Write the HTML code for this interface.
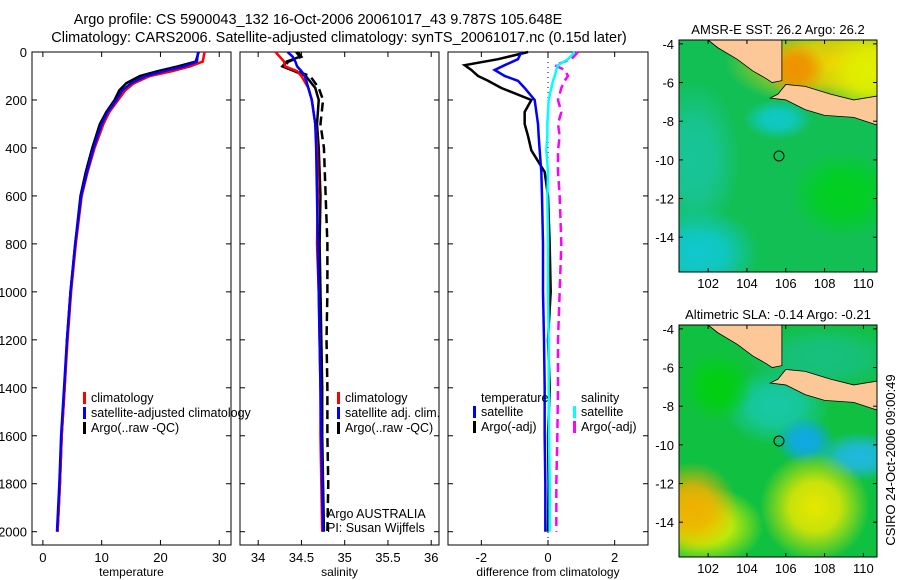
<!DOCTYPE html>
<html><head><meta charset="utf-8"><style>
body{margin:0;background:#fff;width:900px;height:580px;overflow:hidden}
svg{display:block;font-family:"Liberation Sans",sans-serif}
text{font-size:12px;fill:#000}
</style></head><body>
<svg id="fig" width="900" height="580" viewBox="0 0 900 580">
<rect width="900" height="580" fill="#fff"/>
<text x="318" y="24" text-anchor="middle" style="font-size:14.5px">Argo profile: CS 5900043_132 16-Oct-2006 20061017_43 9.787S 105.648E</text>
<text x="339" y="42" text-anchor="middle" style="font-size:14.5px">Climatology: CARS2006. Satellite-adjusted climatology: synTS_20061017.nc (0.15d later)</text>
<g id="g"></g>
</svg>
<script>
// ---- data ----
const depthsT=[0,40,60,80,100,130,160,200,250,300,400,500,600,800,1000,1200,1400,1600,1800,2000];
const tempClim=[27.5,27.2,25,22,18.2,15.5,14,12.8,11.3,10.3,8.8,7.6,6.6,5.6,4.8,4.2,3.7,3.2,2.9,2.5];
const tempSat=[26.4,26.2,24,20.5,17.5,15,13.5,12.5,11,10,8.6,7.5,6.5,5.5,4.7,4.1,3.6,3.1,2.8,2.4];
const tempArgo=[26.5,26,23,19.5,16.5,14.2,13,12.2,10.8,9.7,8.4,7.3,6.4,5.5,4.7,4.1,3.7,3.2,2.9,2.5];
const depthsS=[0,20,40,60,80,100,150,200,300,400,600,800,1000,1200,1400,1600,1800,2000];
const salClim=[34.2,34.25,34.3,34.31,34.45,34.5,34.58,34.62,34.66,34.68,34.69,34.68,34.7,34.71,34.72,34.72,34.73,34.74];
const salSat=[34.34,34.4,34.43,34.45,34.5,34.54,34.58,34.62,34.66,34.67,34.68,34.69,34.7,34.71,34.72,34.73,34.74,34.75];
const salArgo=[34.46,34.5,34.35,34.3,34.45,34.6,34.7,34.75,34.72,34.76,34.78,34.8,34.8,34.79,34.8,34.8,34.81,34.8];
const salArgoRaw=[34.44,34.48,34.33,34.28,34.42,34.55,34.66,34.7,34.68,34.7,34.72,34.71,34.72,34.73,34.74,34.74,34.75,34.76];
const depthsD=[0,30,55,75,100,120,150,200,250,300,350,410,500,600,800,1000,1200,1400,1600,1800,2000];
const dTSat=[-0.8,-0.9,-1.3,-1.6,-1.3,-0.9,-0.7,-0.4,-0.35,-0.3,-0.28,-0.25,-0.2,-0.18,-0.15,-0.15,-0.12,-0.1,-0.1,-0.08,-0.08];
const dTArgo=[-0.6,-1.5,-2.5,-2.3,-2.1,-1.8,-1.4,-0.5,-0.7,-0.7,-0.6,-0.5,-0.1,0,0.05,0.08,0,0.05,0,0.02,0];
const dSSat=[0.8,0.6,0.3,0.25,0.2,0.15,0.1,0.02,0,-0.02,-0.02,-0.05,0,-0.02,0,0,0.02,0.02,0.03,0.05,0.05];
const dSArgo=[0.9,0.7,0.2,0.5,0.6,0.5,0.4,0.3,0.4,0.3,0.35,0.3,0.3,0.35,0.4,0.35,0.3,0.3,0.28,0.25,0.25];
const tempTicks=[0,10,20,30], salTicks=[34,34.5,35,35.5,36], diffTicks=[-2,0,2];
const depthTicks=[0,200,400,600,800,1000,1200,1400,1600,1800,2000];
const lonTicks=[102,104,106,108,110], latTicks=[-4,-6,-8,-10,-12,-14];

const NS='http://www.w3.org/2000/svg';
const G=document.getElementById('g');
function mk(tag,attrs,parent){const e=document.createElementNS(NS,tag);for(const k in attrs)e.setAttribute(k,attrs[k]);(parent||G).appendChild(e);return e;}
const Y0=52,YK=479.7/2000;
const yD=d=>Y0+d*YK;
function panel(name,x0,x1,vmin,vmax,ticks,label){
  const sx=v=>x0+(v-vmin)/(vmax-vmin)*(x1-x0);
  const fr=mk('rect',{x:x0,y:52,width:x1-x0,height:493,fill:'none',stroke:'#000','stroke-width':1});
  
  
  ticks.forEach(t=>{
    const X=sx(t);
    mk('line',{x1:X,x2:X,y1:52,y2:57,stroke:'#000'});mk('line',{x1:X,x2:X,y1:545,y2:540,stroke:'#000'});
    const tx=mk('text',{x:X,y:562,'text-anchor':'middle',style:'font-size:13px'});tx.textContent=t;
    
    
  });
  depthTicks.forEach(d=>{mk('line',{x1:x0,x2:x0+5,y1:yD(d),y2:yD(d),stroke:'#000'});mk('line',{x1:x1,x2:x1-5,y1:yD(d),y2:yD(d),stroke:'#000'});});
  const lb=mk('text',{x:(x0+x1)/2,y:576,'text-anchor':'middle'});lb.textContent=label;
  
  
  return sx;
}
function line(name,sx,vals,deps,color,dash){
  const p=mk('polyline',{points:vals.map((v,i)=>sx(v)+','+yD(deps[i])).join(' '),fill:'none',stroke:color,'stroke-width':2.5,'stroke-dasharray':dash||'none'});
  
  
}
function legend(name,x,y,items){
  items.forEach((it,i)=>{
    mk('rect',{x:x,y:y+i*15-10,width:3,height:12,fill:it[1]});
    const t=mk('text',{x:x+8,y:y+i*15,style:'font-size:12.5px'});t.textContent=it[0];
    
    
  });
}
depthTicks.forEach(d=>{const t=mk('text',{x:27,y:yD(d)+5,'text-anchor':'end',style:'font-size:13px'});t.textContent=d;
  
  });
// panel 1
const sT=panel('temperature-panel',32,231,-1.85,32,tempTicks,'temperature');
line('argo-temperature-line',sT,tempArgo,depthsT,'#000');
line('climatology-temperature-line',sT,tempClim,depthsT,'#f00');
line('satellite-temperature-line',sT,tempSat,depthsT,'#00f');
legend('temperature-legend',83,402,[['climatology','#f00'],['satellite-adjusted climatology','#00f'],['Argo(..raw -QC)','#000']]);
// panel 2
const sS=panel('salinity-panel',240,439,33.79,36.09,salTicks,'salinity');
line('argo-salinity-raw-line',sS,salArgoRaw,depthsS,'#000');
line('argo-salinity-line',sS,salArgo,depthsS,'#000','9,5');
line('climatology-salinity-line',sS,salClim,depthsS,'#f00');
line('satellite-salinity-line',sS,salSat,depthsS,'#00f');
legend('salinity-legend',337,402,[['climatology','#f00'],['satellite adj. clim.','#00f'],['Argo(..raw -QC)','#000']]);
let t1=mk('text',{x:327,y:518,style:'font-size:12.5px'});t1.textContent='Argo AUSTRALIA';


let t2=mk('text',{x:327,y:532,style:'font-size:12.5px'});t2.textContent='PI: Susan Wijffels';


// panel 3
const sD=panel('difference-panel',448,648,-3,3,diffTicks,'difference from climatology');
mk('line',{x1:sD(0),x2:sD(0),y1:52,y2:545,stroke:'#000','stroke-dasharray':'1,4'});
line('argo-temp-diff-line',sD,dTArgo,depthsD,'#000');
line('satellite-temp-diff-line',sD,dTSat,depthsD,'#00f');
line('argo-sal-diff-line',sD,dSArgo,depthsD,'#f0f','9,5');
line('satellite-sal-diff-line',sD,dSSat,depthsD,'#0ff');
let th=mk('text',{x:481,y:402,style:'font-size:12.5px'});th.textContent='temperature';
let sh=mk('text',{x:581,y:402,style:'font-size:12.5px'});sh.textContent='salinity';
legend('diff-temp-legend',473,416,[['satellite','#00f'],['Argo(-adj)','#000']]);
legend('diff-sal-legend',573,416,[['satellite','#0ff'],['Argo(-adj)','#f0f']]);

// ---- maps ----
const defsRoot=mk('defs',{},document.getElementById('fig'));
let gid=0;
function blob(parent,cx,cy,rx,ry,color){
  const id='rg'+(gid++);
  const rg=mk('radialGradient',{id:id},defsRoot);
  mk('stop',{offset:'0','stop-color':color,'stop-opacity':1},rg);
  mk('stop',{offset:'0.45','stop-color':color,'stop-opacity':0.85},rg);
  mk('stop',{offset:'1','stop-color':color,'stop-opacity':0},rg);
  mk('ellipse',{cx:cx,cy:cy,rx:rx,ry:ry,fill:`url(#${id})`},parent);
}
function map(name,top,title,kind){
  const L=679,R=877,B=top+232;
  const lx=lon=>L+(lon-100.5)/(110.7-100.5)*(R-L);
  const ly=lat=>top+(-3.8-lat)/(15.8-3.8)*(B-top);
  const grp=mk('g',{});
  
  
  const id=name+'c';
  const cp=mk('clipPath',{id:id},defsRoot);
  mk('rect',{x:L,y:top,width:R-L,height:B-top},cp);
  const c=mk('g',{'clip-path':`url(#${id})`},grp);
  if(kind==='sst'){
    mk('rect',{x:L,y:top,width:R-L,height:B-top,fill:'#12bf55'},c);
    blob(c,lx(101.5),ly(-14.8),60,45,'#10c8d0');
    blob(c,lx(101.3),ly(-10),45,80,'#18c59a');
    blob(c,lx(105.6),ly(-7.9),35,20,'#10c8c8');
    blob(c,lx(109),ly(-11.8),55,45,'#00d020');
    blob(c,lx(108.5),ly(-5),110,45,'#f0d000');
    blob(c,lx(110.5),ly(-5.5),50,45,'#e0f000');
    blob(c,lx(106.5),ly(-5.3),30,28,'#f09000');
  } else {
    mk('rect',{x:L,y:top,width:R-L,height:B-top,fill:'#10c040'},c);
    blob(c,lx(105.5),ly(-8),55,40,'#18c8a8');
    blob(c,lx(108),ly(-5.5),80,35,'#18c080');
    blob(c,lx(107),ly(-9.8),30,25,'#10a8e8');
    blob(c,lx(109.8),ly(-10.6),45,25,'#20b8e0');
    blob(c,lx(101.8),ly(-14.2),60,40,'#d8f000');
    blob(c,lx(101.2),ly(-13.2),45,45,'#f0b000');
    blob(c,lx(107.5),ly(-13.2),55,55,'#e8e800');
    blob(c,lx(102.5),ly(-7),35,35,'#00d010');
  }
  const P=a=>a.map(p=>lx(p[0])+','+ly(p[1])).join(' ');
  mk('polygon',{points:P([[102,-3.8],[102.5,-4.2],[103.5,-4.8],[104.3,-5.4],[105,-5.8],[105.3,-6],[105.8,-5.9],[105.8,-3.8]]),fill:'#fcc898',stroke:'#000','stroke-width':0.8},c);
  mk('polygon',{points:P([[105.6,-6.6],[106,-6.1],[107,-6.2],[108.3,-6.6],[109.5,-6.9],[110.7,-6.7],[110.7,-8.2],[109.5,-7.8],[108,-7.7],[107,-7.4],[106,-6.9],[105.2,-6.8]]),fill:'#fcc898',stroke:'#000','stroke-width':0.8},c);
  mk('circle',{cx:lx(105.65),cy:ly(-9.8),r:5,fill:'none',stroke:'#000'},c);
  mk('rect',{x:L,y:top,width:R-L,height:B-top,fill:'none',stroke:'#000'},grp);
  lonTicks.forEach(v=>{mk('line',{x1:lx(v),x2:lx(v),y1:B,y2:B-4,stroke:'#000'},grp);mk('line',{x1:lx(v),x2:lx(v),y1:top,y2:top+4,stroke:'#000'},grp);
    const t=mk('text',{x:lx(v),y:B+16,'text-anchor':'middle',style:'font-size:13px'},grp);t.textContent=v;});
  latTicks.forEach(v=>{mk('line',{x1:L,x2:L+4,y1:ly(v),y2:ly(v),stroke:'#000'},grp);mk('line',{x1:R,x2:R-4,y1:ly(v),y2:ly(v),stroke:'#000'},grp);
    const t=mk('text',{x:L-5,y:ly(v)+5,'text-anchor':'end',style:'font-size:13px'},grp);t.textContent=v;});
  const tt=mk('text',{x:(L+R)/2,y:top-6,'text-anchor':'middle',style:'font-size:13px'},grp);tt.textContent=title;
  
  
}
map('sst-map',40,'AMSR-E SST: 26.2 Argo: 26.2','sst');
map('sla-map',325,'Altimetric SLA: -0.14 Argo: -0.21','sla');
const ts=mk('text',{x:0,y:0,transform:'translate(895,460) rotate(-90)','text-anchor':'middle',style:'font-size:13px'});
ts.textContent='CSIRO 24-Oct-2006 09:00:49';


</script>
</body></html>
